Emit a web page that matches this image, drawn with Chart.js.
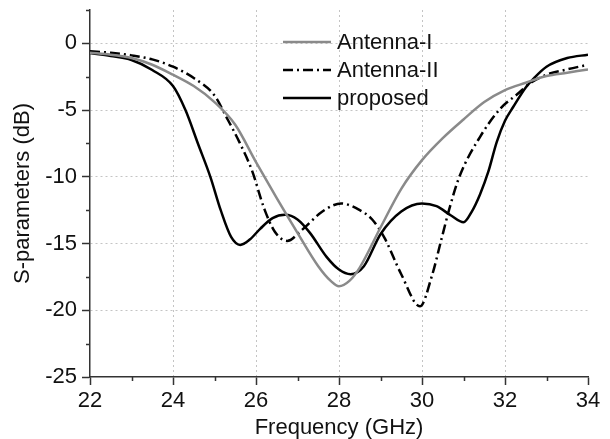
<!DOCTYPE html>
<html>
<head>
<meta charset="utf-8">
<script src="https://cdn.jsdelivr.net/npm/chart.js@4/dist/chart.umd.min.js"></script>
<style>
  body { margin: 0; background: #fff; }
  canvas { display: block; }
</style>
</head>
<body>
<canvas id="chart" width="610" height="439"></canvas>
<script>
// frequency (GHz) / S-parameter (dB)
var freqI = [22, 22.5, 23, 23.5, 24, 24.5, 25, 25.5, 26, 26.5, 27, 27.5, 27.8, 28, 28.25, 28.5, 29, 29.5, 30, 30.5, 31, 31.5, 32, 32.5, 33, 33.5, 34];
var antennaI = [-0.7, -0.85, -1.1, -1.6, -2.35, -3.2, -4.4, -6.1, -8.9, -11.6, -14.2, -16.7, -17.8, -18.2, -17.8, -16.8, -13.8, -10.9, -8.75, -7.1, -5.7, -4.4, -3.5, -2.95, -2.45, -2.2, -1.95];

var freqII = [22, 22.5, 23, 23.5, 24, 24.5, 25, 25.3, 25.6, 25.9, 26.2, 26.45, 26.75, 27.1, 27.6, 28.05, 28.5, 28.8, 29.1, 29.5, 29.95, 30.25, 30.45, 30.65, 30.9, 31.4, 31.9, 32.3, 32.6, 33, 33.5, 34];
var antennaII = [-0.6, -0.7, -0.9, -1.2, -1.75, -2.6, -3.9, -5.6, -7.4, -9.5, -12.4, -14.1, -14.8, -14.0, -12.6, -12.0, -12.5, -13.2, -14.6, -17.3, -19.7, -17.3, -14.9, -12.5, -10.0, -7.0, -4.85, -3.8, -3.0, -2.35, -1.95, -1.6];

var freqP = [22, 22.5, 23, 23.5, 24, 24.3, 24.6, 24.9, 25.15, 25.4, 25.62, 25.85, 26.1, 26.4, 26.7, 27.0, 27.3, 27.7, 28.0, 28.28, 28.6, 29.0, 29.5, 30.0, 30.35, 30.7, 31.0, 31.2, 31.4, 31.6, 31.8, 32.0, 32.2, 32.5, 32.7, 33.0, 33.5, 34];
var proposed = [-0.73, -0.95, -1.25, -2.0, -3.2, -5.0, -7.5, -10.0, -12.5, -14.5, -15.1, -14.7, -13.9, -13.1, -12.85, -13.2, -14.2, -16.0, -16.95, -17.3, -16.7, -14.3, -12.6, -12.0, -12.2, -12.9, -13.4, -12.6, -11.3, -9.6, -7.4, -5.8, -4.75, -3.3, -2.6, -1.75, -1.1, -0.85];

var seriesNames = ['Antenna-I', 'Antenna-II', 'proposed'];
var xTicks = [22, 24, 26, 28, 30, 32, 34];
var yTicks = [-25, -20, -15, -10, -5, 0];

function pts(xs, ys) {
    return xs.map(function (x, i) { return { x: x, y: ys[i] }; });
}

var FONT = 'Arial, "Liberation Sans", sans-serif';

// legend drawn inside plot, upper right, like the original
var legendPlugin = {
    id: 'inLegend',
    afterDatasetsDraw: function (chart) {
        var ctx = chart.ctx;
        var area = chart.chartArea;
        ctx.save();
        chart.data.datasets.forEach(function (ds, i) {
            var y = area.top + 32 + i * 28;
            var x0 = area.left + 193;
            ctx.beginPath();
            ctx.strokeStyle = ds.borderColor;
            ctx.lineWidth = ds.borderWidth;
            ctx.setLineDash(ds.borderDash || []);
            ctx.moveTo(x0, y);
            ctx.lineTo(x0 + 48, y);
            ctx.stroke();
            ctx.setLineDash([]);
            ctx.fillStyle = '#111';
            ctx.font = '22px ' + FONT;
            ctx.textBaseline = 'middle';
            ctx.textAlign = 'left';
            ctx.fillText(ds.label, x0 + 54, y + 1);
        });
        ctx.restore();
    }
};

// minor ticks every 1 GHz and 2.5 dB
var minorTicks = {
    id: 'minorTicks',
    afterDraw: function (chart) {
        var ctx = chart.ctx;
        var xs = chart.scales.x, ys = chart.scales.y;
        ctx.save();
        ctx.strokeStyle = '#333';
        ctx.lineWidth = 1.5;
        ctx.beginPath();
        for (var f = 23; f < 34; f += 2) {
            var px = Math.round(xs.getPixelForValue(f)) + 0.5;
            ctx.moveTo(px, ys.bottom);
            ctx.lineTo(px, ys.bottom + 4);
        }
        for (var v = -22.5; v <= 2.5; v += 5) {
            var py = Math.round(ys.getPixelForValue(v)) + 0.5;
            ctx.moveTo(xs.left, py);
            ctx.lineTo(xs.left - 4, py);
        }
        ctx.stroke();
        ctx.restore();
    }
};

var ctx = document.getElementById('chart').getContext('2d');
var chart = new Chart(ctx, {
    type: 'line',
    data: {
        datasets: [{
            label: seriesNames[0],
            data: pts(freqI, antennaI),
            borderColor: '#8a8a8a',
            borderWidth: 2.5
        }, {
            label: seriesNames[1],
            data: pts(freqII, antennaII),
            borderColor: '#000',
            borderWidth: 2.5,
            borderDash: [10, 4, 2, 4]
        }, {
            label: seriesNames[2],
            data: pts(freqP, proposed),
            borderColor: '#000',
            borderWidth: 2.5
        }]
    },
    options: {
        responsive: false,
        animation: false,
        layout: { padding: { top: 10, right: 22, left: 0, bottom: 0 } },
        elements: {
            point: { radius: 0 },
            line: { cubicInterpolationMode: 'monotone', fill: false }
        },
        plugins: {
            legend: { display: false },
            tooltip: { enabled: false }
        },
        scales: {
            x: {
                type: 'linear',
                min: 22,
                max: 34,
                afterBuildTicks: function (scale) {
                    scale.ticks = xTicks.map(function (v) { return { value: v }; });
                },
                ticks: {
                    autoSkip: false,
                    maxRotation: 0,
                    color: '#111',
                    padding: 3,
                    font: { size: 22, family: FONT }
                },
                grid: {
                    color: function (c) {
                        return (c.tick && c.tick.value > 22 && c.tick.value < 34) ? '#c4c4c4' : 'rgba(0,0,0,0)';
                    },
                    lineWidth: 1,
                    tickLength: 8,
                    tickColor: '#333',
                    tickWidth: 1.5
                },
                border: { color: '#333', width: 1.5, dash: [2, 3] },
                title: {
                    display: true,
                    text: 'Frequency (GHz)',
                    color: '#111',
                    font: { size: 22, family: FONT },
                    padding: { top: 0, bottom: -2 }
                },
                afterFit: function (scale) { scale.height = 62; }
            },
            y: {
                type: 'linear',
                min: -25,
                max: 2.5,
                afterBuildTicks: function (scale) {
                    scale.ticks = yTicks.map(function (v) { return { value: v }; });
                },
                ticks: {
                    autoSkip: false,
                    color: '#111',
                    padding: 5,
                    font: { size: 22, family: FONT }
                },
                grid: {
                    color: function (c) {
                        return (c.tick && c.tick.value > -25) ? '#c4c4c4' : 'rgba(0,0,0,0)';
                    },
                    lineWidth: 1,
                    tickLength: 8,
                    tickColor: '#333',
                    tickWidth: 1.5
                },
                border: { color: '#333', width: 1.5, dash: [2, 3] },
                title: {
                    display: true,
                    text: 'S-parameters (dB)',
                    color: '#111',
                    font: { size: 22, family: FONT },
                    padding: { top: 10, bottom: 0 }
                },
                afterFit: function (scale) {
                    scale.width = 90;
                    scale.paddingTop = 0;
                    scale.paddingBottom = 0;
                }
            }
        }
    },
    plugins: [legendPlugin, minorTicks]
});
</script>
</body>
</html>
